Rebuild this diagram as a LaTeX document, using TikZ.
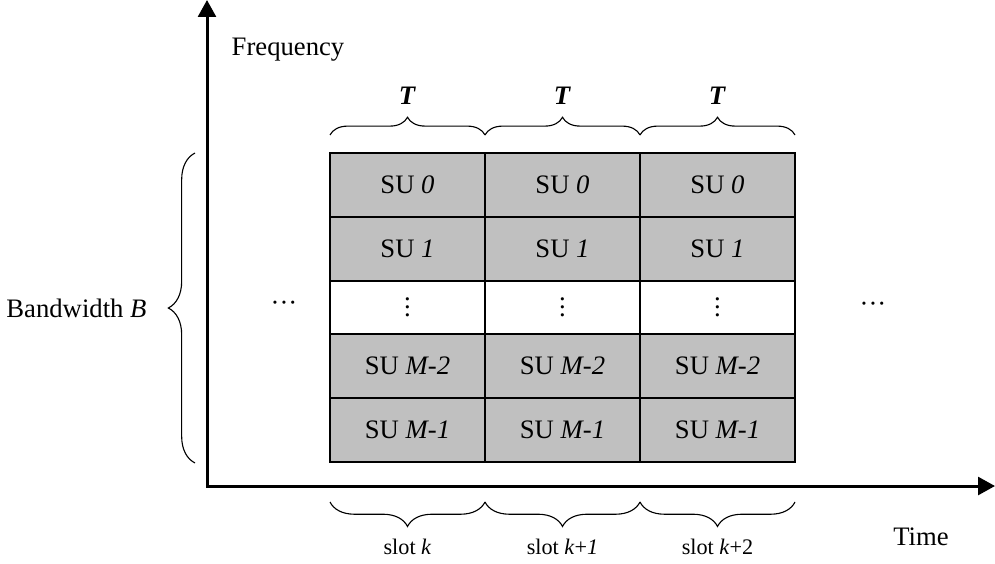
\documentclass[tikz,border=0pt]{standalone}
\usepackage{fontspec}
\setmainfont{Liberation Serif}
\usepackage{tikz}
\usetikzlibrary{arrows.meta,decorations.pathreplacing}
\definecolor{sucell}{HTML}{C0C0C0}
\newcommand{\coldots}{\vbox{\baselineskip3.6pt\lineskiplimit0pt\hbox{.}\hbox{.}\hbox{.}}}
\newcommand{\rowdots}{\textperiodcentered\textperiodcentered\textperiodcentered}

\begin{document}
\begin{tikzpicture}[x=0.45pt, y=-0.45pt, font=\fontsize{12}{14}\selectfont,
  axis/.style={line width=1.35pt, {Triangle[length=7.6pt,width=8pt]}-{Triangle[length=7.6pt,width=8pt]}},
  cell/.style={draw, line width=0.65pt, fill=sucell, minimum width=69.75pt,
    minimum height=28.8pt, inner sep=0pt, outer sep=0pt},
  gap/.style={cell, fill=white, minimum height=23.85pt},
  brc/.style={decorate, line width=0.5pt},
  lbl/.style={inner sep=0pt},
  slot/.style={lbl, font=\fontsize{10}{12}\selectfont}]
  \useasboundingbox (0,0) rectangle (995,563);
  \coordinate (o) at (207,486);
  \coordinate (ftop) at (207,0);
  \coordinate (tend) at (995,486);
  \draw[axis] (ftop) -- (o) -- (tend);
  \node[lbl] (freq) at (288,50) {Frequency};
  \node[lbl] (time) at (921,537) {Time};
  \foreach \c/\xc in {0/407.5,1/562.5,2/717.5} {
    \node[cell] (su0-\c) at (\xc,185) {SU \textit{0}};
    \node[cell] (su1-\c) at (\xc,249) {SU \textit{1}};
    \node[gap] (dots-\c) at (\xc,307.5) {\coldots};
    \node[cell] (sum2-\c) at (\xc,366) {SU \textit{M-2}};
    \node[cell] (sum1-\c) at (\xc,430) {SU \textit{M-1}};
    \draw[brc, decoration={brace, amplitude=8pt}]
      ([yshift=8.1pt]su0-\c.north west) -- node[lbl, above=13.5pt] (t-\c) {\textbf{\textit{T}}}
      ([yshift=8.1pt]su0-\c.north east);
  }
  \draw[brc, decoration={brace, amplitude=11pt}]
    ([yshift=-18pt]sum1-0.south east) -- node[slot, below=16.5pt] (slot-0) {slot \textit{k}}
    ([yshift=-18pt]sum1-0.south west);
  \draw[brc, decoration={brace, amplitude=11pt}]
    ([yshift=-18pt]sum1-1.south east) -- node[slot, below=16.5pt] (slot-1) {slot \textit{k}+\textit{1}}
    ([yshift=-18pt]sum1-1.south west);
  \draw[brc, decoration={brace, amplitude=11pt}]
    ([yshift=-18pt]sum1-2.south east) -- node[slot, below=16.5pt] (slot-2) {slot \textit{k}+2}
    ([yshift=-18pt]sum1-2.south west);
  \coordinate (bwlo) at (195,463);
  \coordinate (bwhi) at (195,153);
  \draw[brc, decoration={brace, amplitude=12pt}]
    (bwlo) -- node[lbl, left=21.6pt] (bw) {Bandwidth \textit{B}} (bwhi);
  \node[lbl] (ldots) at (284,306) {\rowdots};
  \node[lbl] (rdots) at (873,307) {\rowdots};
\end{tikzpicture}
\end{document}
